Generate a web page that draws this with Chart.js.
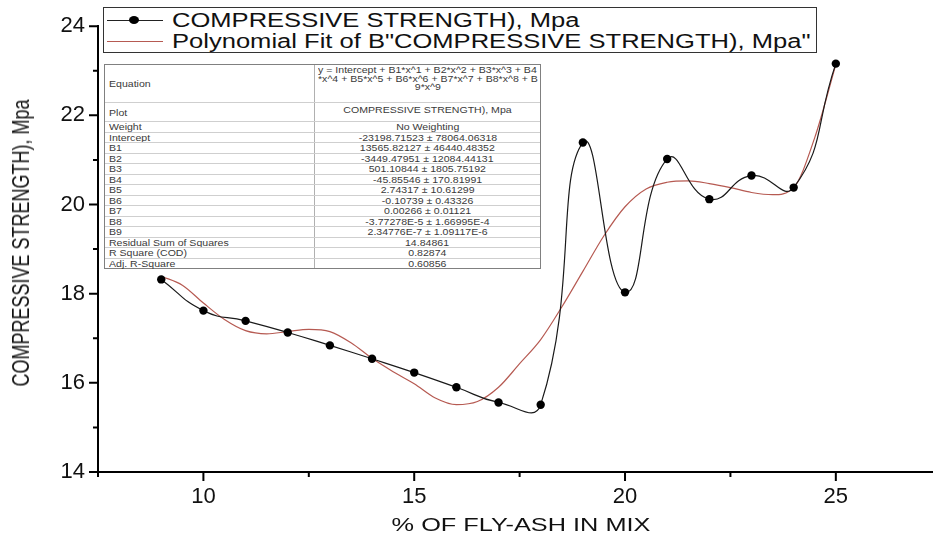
<!DOCTYPE html>
<html lang="en">
<head>
<meta charset="UTF-8">
<title>Compressive strength vs fly-ash</title>
<script src="https://cdn.jsdelivr.net/npm/chart.js"></script>
<style>
    body {
        margin: 0;
        background: #fff;
        font-family: 'Liberation Sans', Arial, sans-serif;
    }

    .wrap {
        position: relative;
        width: 937px;
        height: 537px;
        overflow: hidden;
    }

    canvas {
        position: absolute;
        left: 0;
        top: 0;
    }

    /* legend box in the top of the plot */
    .legend {
        position: absolute;
        left: 103px;
        top: 7px;
        width: 712px;
        height: 44px;
        border: 1px solid #333;
        background: #fff;
    }
    .legend .sym {
        position: absolute;
        left: 3px;
        width: 56px;
        height: 0;
    }
    .legend .sym.black { top: 12px; border-top: 1px solid #222; }
    .legend .sym.red { top: 33px; border-top: 1px solid #b65a52; }
    .legend .sym.black::after {
        content: '';
        position: absolute;
        left: 22px;
        top: -5px;
        width: 10px;
        height: 8px;
        border-radius: 50%;
        background: #000;
    }
    .legend .txt {
        position: absolute;
        left: 68px;
        font-size: 19.5px;
        line-height: 21px;
        white-space: nowrap;
        color: #111;
        transform-origin: 0 50%;
        transform: scaleX(1.31);
    }

    /* fit results table */
    .fit {
        position: absolute;
        left: 104px;
        top: 64px;
        width: 435px;
        border: 1px solid #808080;
        background: #fff;
        font-size: 9.6px;
        color: #3a3a3a;
    }
    .fit .row {
        position: relative;
        display: flex;
        border-top: 1px solid #cfcfcf;
        box-sizing: border-box;
        line-height: 9px;
    }
    .fit .row:first-child { border-top: none; }
    .fit .lab {
        width: 210px;
        padding-left: 4px;
        box-sizing: border-box;
        border-right: 1px solid #b0b0b0;
        display: flex;
        align-items: center;
        white-space: nowrap;
    }
    .fit .lab span, .fit .val span {
        display: inline-block;
        transform: scaleX(1.1);
    }
    .fit .lab span { transform-origin: 0 50%; }
    .fit .val {
        flex: 1;
        text-align: center;
        white-space: nowrap;
        display: flex;
        align-items: center;
        justify-content: center;
    }
    .fit .val.top {
        flex-direction: column;
        justify-content: flex-start;
        align-items: center;
        line-height: 8.5px;
    }

    .ytitle {
        position: absolute;
        left: 21px;
        top: 243px;
        font-size: 18px;
        line-height: 1;
        white-space: nowrap;
        color: #111;
        transform: translate(-50%, -50%) rotate(-90deg) scaleY(1.3);
    }
    .xtitle {
        position: absolute;
        left: 521px;
        top: 525px;
        font-size: 18.9px;
        line-height: 1;
        white-space: nowrap;
        color: #111;
        transform: translate(-50%, -50%) scaleX(1.34);
    }
</style>
</head>
<body>

<div class="wrap">
    <canvas id="strengthChart" width="937" height="537"></canvas>

    <div class="legend">
        <div class="sym black"></div>
        <div class="txt" style="top:2px">COMPRESSIVE STRENGTH), Mpa</div>
        <div class="sym red"></div>
        <div class="txt" style="top:23px">Polynomial Fit of B"COMPRESSIVE STRENGTH), Mpa"</div>
    </div>

    <div class="fit" id="fitTable"></div>

    <div class="ytitle">COMPRESSIVE STRENGTH), Mpa</div>
    <div class="xtitle">% OF FLY-ASH IN MIX</div>
</div>

<script>
    const strengthX = [9, 10, 11, 12, 13, 14, 15, 16, 17, 18, 19, 20, 21, 22, 23, 24, 25];
    const strengthY = [18.32, 17.62, 17.39, 17.13, 16.84, 16.54, 16.23, 15.90, 15.56, 15.51,
                       21.39, 18.03, 21.02, 20.12, 20.65, 20.38, 23.16];

    // polynomial fit curve, every 0.5
    const fitX = [9, 9.5, 10, 10.5, 11, 11.5, 12, 12.5, 13, 13.5, 14, 14.5, 15, 15.5, 16, 16.5,
                  17, 17.5, 18, 18.5, 19, 19.5, 20, 20.5, 21, 21.5, 22, 22.5, 23, 23.5, 24, 24.5, 25];
    const fitY = [18.39, 18.19, 17.79, 17.42, 17.17, 17.10, 17.15, 17.20, 17.15, 16.90, 16.55, 16.25,
                  15.98, 15.66, 15.51, 15.58, 15.90, 16.43, 16.97, 17.70, 18.50, 19.30, 19.95, 20.35,
                  20.50, 20.53, 20.47, 20.38, 20.27, 20.22, 20.38, 21.50, 23.14];

    // axis ticks
    const yMajorTicks = [14, 16, 18, 20, 22, 24];
    const yMinorTicks = [15, 17, 19, 21, 23];
    const xMajorTicks = [10, 15, 20, 25];
    const xMinorTicks = [7.5, 12.5, 17.5, 22.5];

    // fit report table
    const tableLabels = ['Equation', 'Plot', 'Weight', 'Intercept', 'B1', 'B2', 'B3', 'B4', 'B5',
                         'B6', 'B7', 'B8', 'B9', 'Residual Sum of Squares', 'R Square (COD)', 'Adj. R-Square'];
    const tableValues = [
        'y = Intercept + B1*x^1 + B2*x^2 + B3*x^3 + B4|*x^4 + B5*x^5 + B6*x^6 + B7*x^7 + B8*x^8 + B|9*x^9',
        'COMPRESSIVE STRENGTH), Mpa',
        'No Weighting',
        '-23198.71523 ± 78064.06318',
        '13565.82127 ± 46440.48352',
        '-3449.47951 ± 12084.44131',
        '501.10844 ± 1805.75192',
        '-45.85546 ± 170.81991',
        '2.74317 ± 10.61299',
        '-0.10739 ± 0.43326',
        '0.00266 ± 0.01121',
        '-3.77278E-5 ± 1.66995E-4',
        '2.34776E-7 ± 1.09117E-6',
        '14.84861',
        '0.82874',
        '0.60856'
    ];

    // build the table
    const table = document.getElementById('fitTable');
    tableLabels.forEach((lab, i) => {
        const row = document.createElement('div');
        row.className = 'row';
        row.style.height = i === 0 ? '37px' : (i === 1 ? '19px' : '10.5px');
        const l = document.createElement('div');
        l.className = 'lab';
        const ls = document.createElement('span');
        ls.textContent = lab;
        l.appendChild(ls);
        const v = document.createElement('div');
        v.className = 'val' + (i < 2 ? ' top' : '');
        if (i < 2) v.style.paddingTop = i === 0 ? '1px' : '3px';
        tableValues[i].split('|').forEach(line => {
            const s = document.createElement('span');
            s.textContent = line;
            v.appendChild(s);
        });
        row.appendChild(l);
        row.appendChild(v);
        table.appendChild(row);
    });

    // major / minor tick marks drawn outside the plot
    const tickMarks = {
        id: 'tickMarks',
        afterDraw(chart) {
            const { ctx, chartArea, scales: { x, y } } = chart;
            ctx.save();
            ctx.strokeStyle = '#000';
            ctx.lineWidth = 2;
            ctx.beginPath();
            yMajorTicks.forEach(v => {
                const p = y.getPixelForValue(v);
                ctx.moveTo(chartArea.left - 9, p);
                ctx.lineTo(chartArea.left, p);
            });
            yMinorTicks.forEach(v => {
                const p = y.getPixelForValue(v);
                ctx.moveTo(chartArea.left - 5, p);
                ctx.lineTo(chartArea.left, p);
            });
            xMajorTicks.forEach(v => {
                const p = x.getPixelForValue(v);
                ctx.moveTo(p, chartArea.bottom);
                ctx.lineTo(p, chartArea.bottom + 9);
            });
            xMinorTicks.forEach(v => {
                const p = x.getPixelForValue(v);
                ctx.moveTo(p, chartArea.bottom);
                ctx.lineTo(p, chartArea.bottom + 5);
            });
            ctx.stroke();
            ctx.restore();
        }
    };

    const ctx = document.getElementById('strengthChart').getContext('2d');
    new Chart(ctx, {
        type: 'line',
        data: {
            datasets: [{
                label: 'COMPRESSIVE STRENGTH), Mpa',
                data: strengthX.map((x, i) => ({ x: x, y: strengthY[i] })),
                borderColor: '#1a1a1a',
                borderWidth: 1.2,
                pointRadius: 4.2,
                pointBackgroundColor: '#000',
                pointBorderWidth: 0,
                tension: 0.5
            }, {
                label: 'Polynomial Fit of B"COMPRESSIVE STRENGTH), Mpa"',
                data: fitX.map((x, i) => ({ x: x, y: fitY[i] })),
                borderColor: '#b65a52',
                borderWidth: 1.2,
                pointRadius: 0,
                cubicInterpolationMode: 'monotone'
            }]
        },
        options: {
            responsive: false,
            animation: false,
            layout: { padding: { top: 18, right: 0, left: 0, bottom: 0 } },
            scales: {
                x: {
                    type: 'linear',
                    min: 7.5,
                    max: 27.3,
                    afterBuildTicks: s => { s.ticks = xMajorTicks.map(v => ({ value: v })); },
                    afterFit: s => { s.height = 65; },
                    grid: { display: true, drawOnChartArea: false, drawTicks: false },
                    border: { display: true, color: '#000', width: 2 },
                    ticks: {
                        padding: 12,
                        color: '#111',
                        font: { family: "'Liberation Sans', Arial, sans-serif", size: 22 }
                    }
                },
                y: {
                    min: 14,
                    max: 24,
                    afterBuildTicks: s => { s.ticks = yMajorTicks.map(v => ({ value: v })); },
                    afterFit: s => { s.width = 98; },
                    grid: { display: true, drawOnChartArea: false, drawTicks: false },
                    border: { display: true, color: '#000', width: 2 },
                    ticks: {
                        padding: 13,
                        color: '#111',
                        font: { family: "'Liberation Sans', Arial, sans-serif", size: 22 }
                    }
                }
            },
            plugins: {
                legend: { display: false },
                tooltip: { enabled: false }
            }
        },
        plugins: [tickMarks]
    });
</script>

</body>
</html>
